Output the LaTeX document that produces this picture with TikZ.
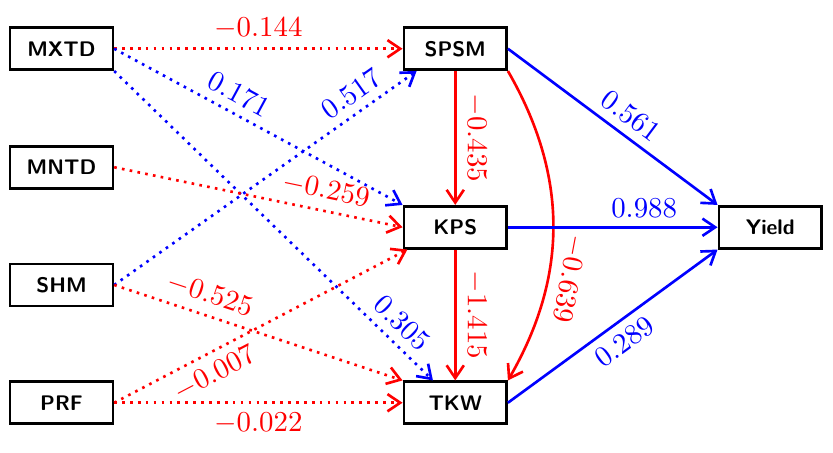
\documentclass[tikz,border=0pt]{standalone}
\usepackage{amsmath}
\usetikzlibrary{arrows.meta, positioning}
\definecolor{effneg}{RGB}{255,0,0}
\definecolor{effpos}{RGB}{0,0,255}

\begin{document}
\begin{tikzpicture}[>={Straight Barb[length=1.7mm, width=2.3mm]},
    box/.style={draw, line width=1pt, minimum width=1.37cm, minimum height=0.56cm,
        inner sep=1pt, font=\footnotesize\sffamily\bfseries},
    negline/.style={->, line width=1pt, effneg},
    posline/.style={->, line width=1pt, effpos},
    lbl/.style={sloped, font=\fontsize{10.6}{12}\selectfont}]
    \useasboundingbox (0,0) rectangle (11.107,-6.04);

    % Predictors
    \node[box] (MXTD) at (0.82,-0.65) {MXTD};
    \node[box] (MNTD) at (0.82,-2.23) {MNTD};
    \node[box] (SHM)  at (0.82,-3.80) {SHM};
    \node[box] (PRF)  at (0.82,-5.37) {PRF};

    % Yield components
    \node[box] (SPSM)  at (6.07,-0.65) {SPSM};
    \node[box] (KPS)   at (6.07,-3.03) {KPS};
    \node[box] (TKW)   at (6.07,-5.37) {TKW};
    \node[box] (Yield) at (10.27,-3.03) {Yield};

    % Indirect paths (dotted)
    \draw[negline, dotted] (MXTD.east) -- (SPSM.west)
        node[lbl, midway, above] {$-0.144$};
    \draw[posline, dotted] (MXTD.east) -- (KPS.north west)
        node[lbl, pos=0.4, above] {$0.171$};
    \draw[posline, dotted] (MXTD.south east) -- (TKW.135)
        node[lbl, pos=0.86, above] {$0.305$};
    \draw[negline, dotted] (MNTD.east) -- (KPS.west)
        node[lbl, pos=0.72, above] {$-0.259$};
    \draw[posline, dotted] (SHM.east) -- (SPSM.210)
        node[lbl, pos=0.82, above] {$0.517$};
    \draw[negline, dotted] (SHM.east) -- (TKW.north west)
        node[lbl, pos=0.31, above] {$-0.525$};
    \draw[negline, dotted] (PRF.east) -- (KPS.205)
        node[lbl, pos=0.31, below] {$-0.007$};
    \draw[negline, dotted] (PRF.east) -- (TKW.west)
        node[lbl, midway, below] {$-0.022$};

    % Direct paths
    \draw[negline] (SPSM) -- (KPS) node[lbl, midway, above] {$-0.435$};
    \draw[negline] (KPS) -- (TKW) node[lbl, midway, above] {$-1.415$};
    \draw[negline] (SPSM.south east) to[bend left=30]
        node[lbl, allow upside down, pos=0.66, above] {$-0.639$} (TKW.north east);
    \draw[posline] (SPSM.east) -- (Yield.north west)
        node[lbl, pos=0.53, above] {$0.561$};
    \draw[posline] (KPS) -- (Yield) node[lbl, pos=0.65, above] {$0.988$};
    \draw[posline] (TKW.east) -- (Yield.south west)
        node[lbl, pos=0.5, below] {$0.289$};
\end{tikzpicture}
\end{document}
